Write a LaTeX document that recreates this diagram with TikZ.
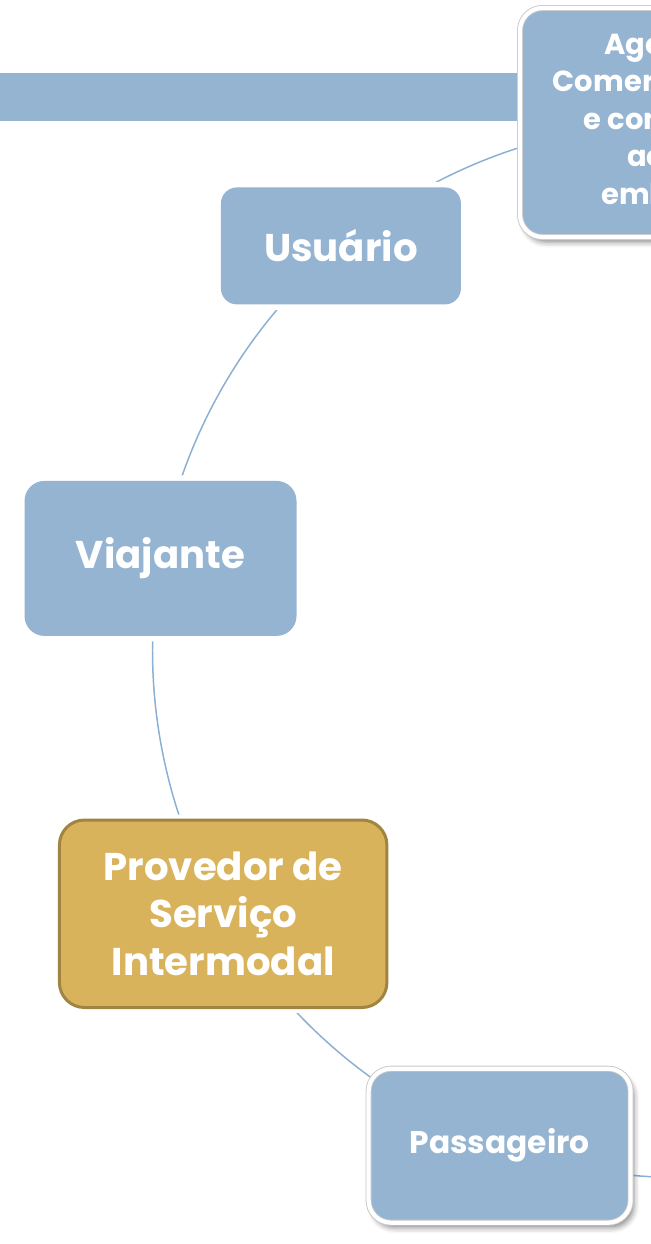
\documentclass[tikz,border=0pt]{standalone}
\usepackage{fontspec}
\setmainfont{Poppins}
\usetikzlibrary{calc, shadows.blur}
\definecolor{roleblue}{RGB}{149,180,210}
\definecolor{linkblue}{RGB}{140,176,210}
\definecolor{provgold}{RGB}{217,178,92}
\definecolor{provedge}{RGB}{160,132,66}
\def\rad{10.55cm}

\begin{document}
\begin{tikzpicture}[
    role/.style={rectangle, rounded corners=0.35cm, fill=roleblue, text=white, align=center, inner sep=2pt, font=\bfseries\fontsize{22}{27}\selectfont},
    halo/.style={preaction={draw=white, line width=0.22cm}},
    framed/.style={role, draw=black!22, double=white, double distance=2.4pt, line width=0.5pt, rounded corners=0.45cm,
        blur shadow={shadow xshift=2pt, shadow yshift=-3pt, shadow blur radius=3pt, shadow opacity=45}},
    small/.style={font=\bfseries\fontsize{16.5}{21.3}\selectfont},
    link/.style={draw=linkblue, line width=0.85pt}
]
\useasboundingbox (0,0) rectangle (13.02,-24.88);
\clip (0,0) rectangle (13.02,-24.88);

\coordinate (hub) at (13.6,-13.0);

% Band
\fill[roleblue] (0,-1.46) rectangle (10.8,-2.42);

% Connections (drawn first, the nodes cover their ends)
\path (hub) ++(130:\rad) coordinate (p130);
\draw[link] (p130) arc[start angle=130, end angle=90, radius=\rad];
\path (hub) ++(170:\rad) coordinate (p170);
\draw[link] (p170) arc[start angle=170, end angle=130, radius=\rad];
\path (hub) ++(210:\rad) coordinate (p210);
\draw[link] (p210) arc[start angle=210, end angle=170, radius=\rad];
\path (hub) ++(250:\rad) coordinate (p250);
\draw[link] (p250) arc[start angle=250, end angle=210, radius=\rad];
\draw[link] (p250) arc[start angle=250, end angle=290, radius=\rad];

% Nodes
\node[framed, small, minimum width=6.4cm, minimum height=4.58cm] (agente) at ($(hub)+(90:\rad)$)
    {Agente de\\Comercialização\\e controle de\\acesso\\embarque};
\node[role, halo, rounded corners=0.32cm, minimum width=4.8cm, minimum height=2.34cm] (usuario) at (p130) {Usuário};
\node[role, halo, rounded corners=0.4cm, minimum width=5.44cm, minimum height=3.1cm] (viajante) at (p170) {Viajante};
\node[role, halo, fill=provgold, draw=provedge, line width=1.7pt, rounded corners=0.5cm,
    minimum width=6.55cm, minimum height=3.75cm] (provedor) at (p210) {Provedor de\\Serviço\\Intermodal};
\node[framed, small, font=\bfseries\fontsize{17.8}{22}\selectfont, minimum width=5.24cm, minimum height=3.08cm] (passageiro) at (p250) {Passageiro};

\end{tikzpicture}
\end{document}
